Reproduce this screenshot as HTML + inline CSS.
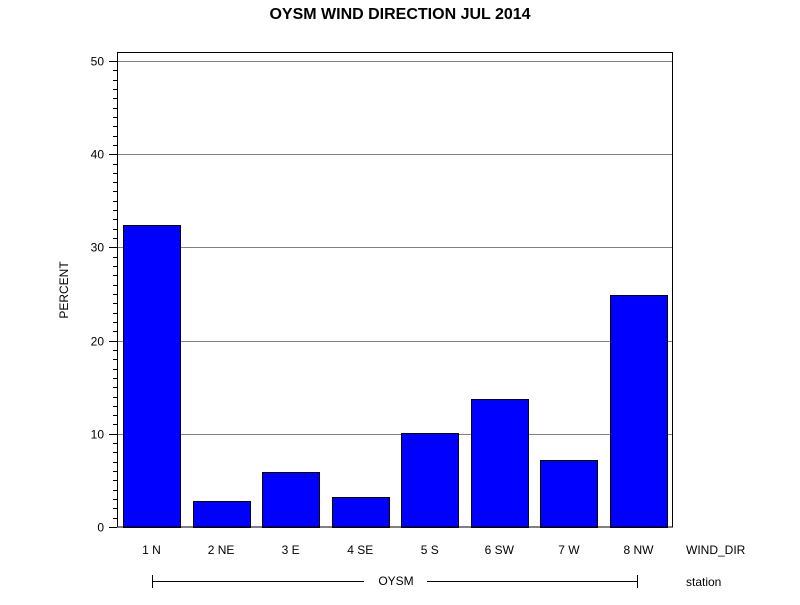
<!DOCTYPE html>
<html><head><meta charset="utf-8"><style>
body{margin:0;background:#fff;width:800px;height:600px;overflow:hidden}
svg text{font-family:"Liberation Sans",Arial,sans-serif}
</style></head><body>
<svg id="chart" width="800" height="600" xmlns="http://www.w3.org/2000/svg">
<text x="400" y="19" text-anchor="middle" font-size="16" font-weight="bold">OYSM WIND DIRECTION JUL 2014</text>
<g id="grid"></g>
<g id="bars"></g>
<rect x="117.5" y="52.5" width="555" height="474.5" fill="none" stroke="#000"/>
<g id="yaxis"></g>
<g id="xaxis"></g>
<text transform="translate(68,290) rotate(-90)" text-anchor="middle" font-size="12">PERCENT</text>
<text x="686" y="554" font-size="12">WIND_DIR</text>
<text x="686" y="586" font-size="12">station</text>
<line x1="152" y1="581.5" x2="364" y2="581.5" stroke="#000"/>
<line x1="427" y1="581.5" x2="638" y2="581.5" stroke="#000"/>
<line x1="152.5" y1="575" x2="152.5" y2="588" stroke="#000"/>
<line x1="637.5" y1="575" x2="637.5" y2="588" stroke="#000"/>
<text x="396" y="585" text-anchor="middle" font-size="12">OYSM</text>
</svg>
<script>
const categories=["1 N","2 NE","3 E","4 SE","5 S","6 SW","7 W","8 NW"];
const values=[32.4,2.8,5.9,3.2,10.1,13.7,7.2,24.9];
const yTicks=[0,10,20,30,40,50];
const NS="http://www.w3.org/2000/svg";
const y0=527,yMaxPx=61,yMax=50;
function yScale(v){return y0-(v/yMax)*(y0-yMaxPx);}
function xScale(i){return 151.5+i*69.57;}
function mk(tag,attrs,parent){const e=document.createElementNS(NS,tag);for(const k in attrs)e.setAttribute(k,attrs[k]);parent.appendChild(e);return e;}
const grid=document.getElementById('grid'),bars=document.getElementById('bars'),ya=document.getElementById('yaxis'),xa=document.getElementById('xaxis');
yTicks.forEach(t=>{
  const y=Math.round(yScale(t))+0.5;
  if(t>0){const g=mk('line',{x1:118,x2:672,y1:y,y2:y,stroke:'#808080'},grid);
  
  }
  const tk=mk('line',{x1:109,x2:117,y1:y,y2:y,stroke:'#000'},ya);
  
  
  const tx=mk('text',{x:104,y:y+4,'text-anchor':'end','font-size':12},ya);
  
  
  tx.textContent=t;
});
for(let v=1;v<yMax;v++){if(v%10===0)continue;const y=Math.round(yScale(v))+0.5;
  const m=mk('line',{x1:113,x2:117,y1:y,y2:y,stroke:'#000'},ya);
  
  }
categories.forEach((c,i)=>{
  const cx=xScale(i),top=yScale(values[i]);
  const r=mk('rect',{x:Math.round(cx-28.5)+0.5,y:Math.round(top)+0.5,width:57,height:y0-Math.round(top),fill:'#0000ff',stroke:'#000'},bars);
  
  
  const t=mk('text',{x:cx,y:554,'text-anchor':'middle','font-size':12},xa);
  
  
  t.textContent=c;
});
</script>
</body></html>
